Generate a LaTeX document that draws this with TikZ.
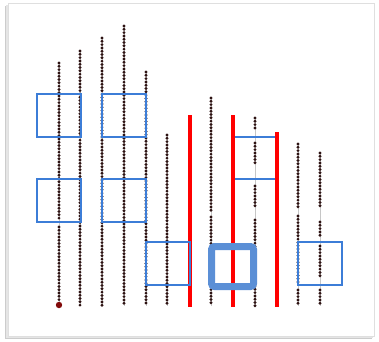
\documentclass[tikz,border=0pt]{standalone}
\definecolor{dotc}{RGB}{45,18,18}
\definecolor{redc}{RGB}{255,0,0}
\definecolor{bluec}{RGB}{60,125,215}
\definecolor{thickc}{RGB}{91,143,214}
\definecolor{bigdot}{RGB}{130,10,10}
\begin{document}
\begin{tikzpicture}[x=1pt,y=-1pt,
  thinline/.style={draw=gray!45,line width=0.6pt},
  redline/.style={draw=redc,line width=4pt},
  bluebox/.style={draw=bluec,line width=1.5pt},
  thickbox/.style={draw=thickc,line width=7pt,rounded corners=3pt},
  dotmark/.style={fill=dotc}]
\useasboundingbox (0,0) rectangle (379,341);
% frame with shadow
\fill[gray!40] (5,6) rectangle (372,339);
\fill[gray!20] (6,5) rectangle (373,338);
\filldraw[fill=white,draw=gray!25,line width=0.5pt] (8,3) rectangle (374,336);
\newcommand\dotseg[3]{%
  \pgfmathsetmacro\ysec{#2+3.3}%
  \foreach \yy in {#2,\ysec,...,#3} {\fill[dotmark] (#1,\yy) circle (1.6);}}
% thin guide lines
\foreach \xx/\yt in {59/63,80/51,102/38,124/26,146/72,167/135,211/98,255/118,298/144,320/153}
  \draw[thinline] (\xx,\yt) -- (\xx,306);
% dotted columns
\dotseg{59}{63}{220}\dotseg{59}{227}{302}
\fill[bigdot] (59,305) circle (3.2);
\dotseg{80}{51}{306}
\dotseg{102}{38}{306}
\dotseg{124}{26}{306}
\dotseg{146}{72}{306}
\dotseg{167}{135}{306}
\dotseg{211}{98}{213}\dotseg{211}{217}{306}
\dotseg{255}{118}{129}\dotseg{255}{143}{163}\dotseg{255}{186}{207}\dotseg{255}{220}{306}
\dotseg{298}{144}{208}\dotseg{298}{216}{283}\dotseg{298}{290}{306}
\dotseg{320}{153}{208}\dotseg{320}{222}{237}\dotseg{320}{246}{278}\dotseg{320}{290}{306}
% red lines
\draw[redline] (190,115) -- (190,307);
\draw[redline] (233,115) -- (233,307);
\draw[redline] (277,132) -- (277,307);
% blue boxes
\draw[bluebox] (37,94) rectangle (81,137);
\draw[bluebox] (102,94) rectangle (146,137);
\draw[bluebox] (37,179) rectangle (81,222);
\draw[bluebox] (102,179) rectangle (146,222);
\draw[bluebox] (146,242) rectangle (190,285);
\draw[bluebox] (298,242) rectangle (342,285);
\draw[bluebox] (235,137) -- (275,137);
\draw[bluebox] (235,179) -- (275,179);
\draw[thickbox] (211.5,246.5) rectangle (253.5,286.5);
\end{tikzpicture}
\end{document}
